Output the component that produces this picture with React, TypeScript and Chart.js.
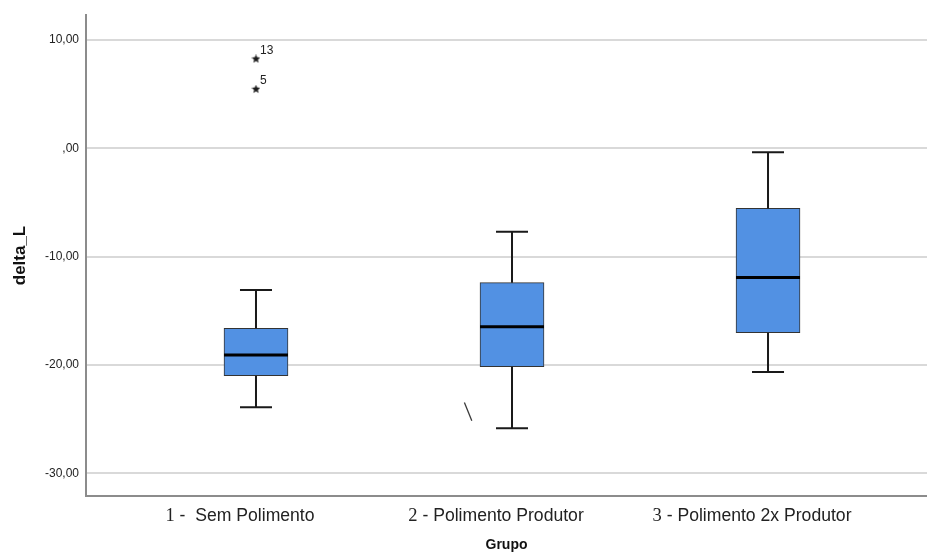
import React, { useEffect, useRef } from 'react';
import { Chart, registerables } from 'chart.js';
Chart.register(...registerables);

// ---------- data ----------
const categories = ['1 -  Sem Polimento', '2 - Polimento Produtor', '3 - Polimento 2x Produtor'];
const groupPositions = [1, 2, 3];
const whiskerLow = [-23.91, -25.85, -20.65];
const q1 = [-20.99, -20.16, -17.02];
const median = [-19.08, -16.47, -11.94];
const q3 = [-16.62, -12.41, -5.55];
const whiskerHigh = [-13.08, -7.7, -0.37];
const outlierGroup = [1, 1];
const outlierValues = [8.24, 5.45];
const outlierLabels = ['13', '5'];
const strayX = [1.814, 1.843];
const strayY = [-23.48, -25.15];
const yTicks = [-30, -20, -10, 0, 10];
const yMin = -32.1;
const yMax = 12.3;
const xMin = 0.336;
const xMax = 3.621;
const xTitle = 'Grupo';
const yTitle = 'delta_L';

const SANS = '"Liberation Sans", Arial, sans-serif';
const SERIF = '"Liberation Serif", "Times New Roman", serif';

function makeStar(size: number) {
  const c = document.createElement('canvas');
  c.width = size;
  c.height = size;
  const g = c.getContext('2d')!;
  const cx = size / 2;
  const R = size / 2;
  const r = R * 0.45;
  g.beginPath();
  for (let k = 0; k < 10; k++) {
    const a = -Math.PI / 2 + (k * Math.PI) / 5;
    const rad = k % 2 === 0 ? R : r;
    g.lineTo(cx + rad * Math.cos(a), cx + rad * Math.sin(a));
  }
  g.closePath();
  g.fillStyle = '#1a1a1a';
  g.fill();
  return c;
}

function fmt(v: number) {
  if (v === 0) return ',00';
  return v.toFixed(2).replace('.', ',');
}

const boxPlugin = {
  id: 'boxExtras',
  afterDatasetsDraw(chart: any) {
    const ctx = chart.ctx;
    const xs = chart.scales.x;
    const ys = chart.scales.y;
    const barMeta = chart.getDatasetMeta(0);
    ctx.save();
    groupPositions.forEach((g, i) => {
      const bar = barMeta.data[i];
      const w = bar.getProps(['width'], true).width;
      const cx = xs.getPixelForValue(g);
      // whiskers
      ctx.strokeStyle = '#1a1a1a';
      ctx.lineWidth = 2;
      ctx.beginPath();
      ctx.moveTo(cx, ys.getPixelForValue(q3[i]));
      ctx.lineTo(cx, ys.getPixelForValue(whiskerHigh[i]));
      ctx.moveTo(cx, ys.getPixelForValue(q1[i]));
      ctx.lineTo(cx, ys.getPixelForValue(whiskerLow[i]));
      ctx.moveTo(cx - w / 4, ys.getPixelForValue(whiskerHigh[i]));
      ctx.lineTo(cx + w / 4, ys.getPixelForValue(whiskerHigh[i]));
      ctx.moveTo(cx - w / 4, ys.getPixelForValue(whiskerLow[i]));
      ctx.lineTo(cx + w / 4, ys.getPixelForValue(whiskerLow[i]));
      ctx.stroke();
      // median
      ctx.strokeStyle = '#000';
      ctx.lineWidth = 3;
      ctx.beginPath();
      ctx.moveTo(cx - w / 2, ys.getPixelForValue(median[i]));
      ctx.lineTo(cx + w / 2, ys.getPixelForValue(median[i]));
      ctx.stroke();
    });
    // outlier labels
    const outMeta = chart.getDatasetMeta(1);
    ctx.fillStyle = '#222';
    ctx.font = '12px ' + SANS;
    ctx.textAlign = 'left';
    ctx.textBaseline = 'alphabetic';
    outlierLabels.forEach((lab, i) => {
      const p = outMeta.data[i];
      ctx.fillText(lab, p.x + 4, p.y - 5);
    });
    // category labels (serif number, sans text)
    const baseY = chart.chartArea.bottom + 25;
    categories.forEach((cat, i) => {
      const num = cat.charAt(0);
      const rest = cat.slice(1);
      ctx.font = '18.5px ' + SERIF;
      const wn = ctx.measureText(num).width;
      ctx.font = '17.6px ' + SANS;
      const wr = ctx.measureText(rest).width;
      const cx = xs.getPixelForValue(groupPositions[i]) - 16;
      const start = cx - (wn + wr) / 2;
      ctx.fillStyle = '#222';
      ctx.font = '18.5px ' + SERIF;
      ctx.fillText(num, start, baseY);
      ctx.font = '17.6px ' + SANS;
      ctx.fillText(rest, start + wn, baseY);
    });
    ctx.restore();
  },
};

export default function App() {
  const ref = useRef<HTMLCanvasElement>(null);
  useEffect(() => {
    const star = makeStar(9);
    const chart = new Chart(ref.current!, {
      type: 'bar',
      data: {
        datasets: [
          {
            type: 'bar',
            data: groupPositions.map((g, i) => ({ x: g, y: [q1[i], q3[i]] })) as any,
            backgroundColor: '#5291e3',
            borderColor: '#333333',
            borderWidth: 1,
            borderSkipped: false,
            barThickness: 64,
          } as any,
          {
            type: 'scatter',
            data: outlierValues.map((v, i) => ({ x: outlierGroup[i], y: v })),
            pointStyle: star as any,
            pointRadius: 4.5,
          } as any,
          {
            type: 'line',
            data: strayX.map((x, i) => ({ x, y: strayY[i] })),
            borderColor: '#3a3a3a',
            borderWidth: 1.3,
            pointRadius: 0,
            fill: false,
          } as any,
        ],
      },
      options: {
        responsive: false,
        animation: false,
        devicePixelRatio: 1,
        layout: { autoPadding: false, padding: { top: 15, right: 0, left: 0, bottom: 0 } },
        plugins: { legend: { display: false }, tooltip: { enabled: false } },
        scales: {
          x: {
            type: 'linear',
            min: xMin,
            max: xMax,
            offset: false,
            grid: { display: false, offset: false },
            border: { display: true, color: '#8c8c8c', width: 2 },
            ticks: { display: false },
            title: {
              display: true,
              text: xTitle,
              color: '#111',
              font: { family: SANS, size: 14, weight: 'bold' },
              padding: { top: 0, bottom: 4 },
            },
            afterFit: (s: any) => {
              s.height = 62;
            },
          },
          y: {
            type: 'linear',
            min: yMin,
            max: yMax,
            afterBuildTicks: (s: any) => {
              s.ticks = yTicks.map((v) => ({ value: v }));
            },
            ticks: {
              callback: (v: any) => fmt(Number(v)),
              color: '#222',
              font: { family: SANS, size: 12 },
              padding: 7,
            },
            grid: { color: '#d9d9d9', lineWidth: 2, drawTicks: false },
            border: { display: true, color: '#8c8c8c', width: 2 },
            title: {
              display: true,
              text: yTitle,
              color: '#111',
              font: { family: SANS, size: 17, weight: 'bold' },
              padding: { top: 10, bottom: 0 },
            },
            afterFit: (s: any) => {
              s.width = 86;
            },
          },
        },
      } as any,
      plugins: [boxPlugin],
    });
    return () => chart.destroy();
  }, []);
  return (
    <div style={{ position: 'absolute', left: 0, top: 0, width: 927, height: 558, background: '#fff' }}>
      <canvas ref={ref} width={927} height={558} style={{ display: 'block' }} />
    </div>
  );
}
